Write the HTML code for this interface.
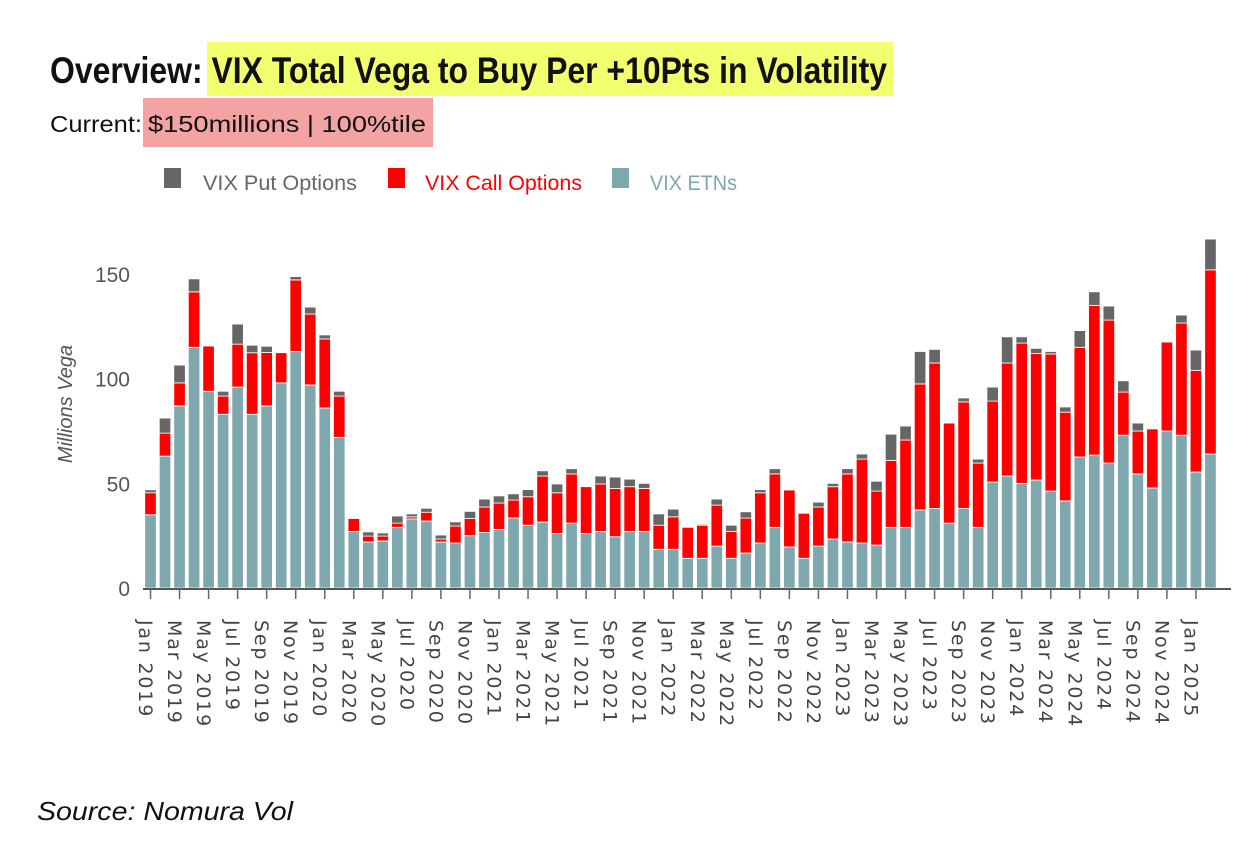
<!DOCTYPE html>
<html><head><meta charset="utf-8"><style>
html,body{margin:0;padding:0;background:#fff;}
svg{display:block;font-family:"Liberation Sans","DejaVu Sans",sans-serif;}
</style></head><body>
<svg id="chart" width="1253" height="844" viewBox="0 0 1253 844" xmlns="http://www.w3.org/2000/svg">
  <rect x="207" y="42" width="686" height="54" fill="#f2ff6e"/>
  <text x="50" y="83" font-size="37" font-weight="bold" fill="#111" textLength="837" lengthAdjust="spacingAndGlyphs">Overview: VIX Total Vega to Buy Per +10Pts in Volatility</text>
  <rect x="143" y="98" width="290" height="49" fill="#f4a3a3"/>
  <text x="50" y="132" font-size="23" fill="#111" textLength="92" lengthAdjust="spacingAndGlyphs">Current:</text>
  <text x="148" y="132" font-size="23" fill="#111" textLength="278" lengthAdjust="spacingAndGlyphs">$150millions | 100%tile</text>

  <g>
    <g>
      <rect x="164" y="168" width="17" height="20" fill="#666"/>
      <text x="203" y="190" font-size="21" fill="#666" textLength="154" lengthAdjust="spacingAndGlyphs">VIX Put Options</text>
    </g>
    <g>
      <rect x="388" y="168" width="17" height="20" fill="#ff0000"/>
      <text x="425" y="190" font-size="21" fill="#ff0000" textLength="157" lengthAdjust="spacingAndGlyphs">VIX Call Options</text>
    </g>
    <g>
      <rect x="612" y="168" width="17" height="20" fill="#7fa8ae"/>
      <text x="650" y="190" font-size="21" fill="#7fa8ae" textLength="87" lengthAdjust="spacingAndGlyphs">VIX ETNs</text>
    </g>
  </g>

  <text transform="translate(72,404) rotate(-90)" font-size="20" font-style="italic" fill="#555" text-anchor="middle">Millions Vega</text>

  <g id="yaxis"></g>
  <g id="bars"></g>
  <line x1="143" y1="589" x2="1231" y2="589" stroke="#555" stroke-width="2"/>
  <g id="xaxis"></g>

  <text x="37" y="820" font-size="26" font-style="italic" fill="#111" textLength="256" lengthAdjust="spacingAndGlyphs">Source: Nomura Vol</text>
</svg>
<script>
const etn = [35,63,87,115,94,83,96,83,87,98,113,97,86,72,27,22,22.5,29,33,32,22,21.5,25,26.5,28,33.5,30,31.5,26,31,26,27,24.5,27,27,18.5,18.5,14.2,14.2,20,14.2,16.7,21.5,29,19.6,14.2,20,23.4,22,21.5,20.5,29,29,37.3,38,31,38,29,50.6,53.5,50,51.6,46.3,41.6,62.6,63.5,59.7,73,54.5,47.8,75,73,55.4,64];
const call = [10.5,11,11,26.5,21.6,8.7,20.5,29.4,25.5,14.4,34.2,33.9,33,19.7,6.2,2.8,2.3,2,1,4.2,1.4,8.1,8.2,12.2,12.6,8.5,13.6,22,19.5,23.5,22.4,22.7,23.1,21.4,20.6,11.5,15.5,14.8,15.8,19.6,12.8,16.7,24,25.5,27.2,21.5,18.7,25,32.5,40.1,25.8,32,41.7,60.2,69.5,47.8,50.9,30.7,38.7,54,67,60.4,65.5,42.4,52.4,71.5,68.3,20.6,20.5,28.2,42.5,53.6,48.6,88];
const put = [1.4,7.2,8.5,6.2,0,2.3,9.6,3.6,3,0,1.6,3.3,1.9,2.3,0,2,1.5,3.4,1.4,1.9,1.9,2,3.4,3.8,3.4,3,3.4,2.5,4.2,2.5,0,3.8,5.4,3.6,2.4,5.4,3.7,0,0.5,2.9,3,3,1.5,2.5,0,0,2.3,1.6,2.5,2.4,4.7,12.5,6.7,15.5,6.5,0,1.9,1.9,6.7,12.5,3,2.5,1.2,2.5,8,6.5,6.7,5.4,3.8,0,0,3.8,9.7,14.7];
const monthNames = ["Jan","Feb","Mar","Apr","May","Jun","Jul","Aug","Sep","Oct","Nov","Dec"];
const yTicks = [0,50,100,150];
const startYear = 2019;

const NS = "http://www.w3.org/2000/svg";
const x0 = 150.5, step = 14.52, barW = 11.5;
function xScale(i){ return x0 + i*step; }
function yScale(v){ return 588 - v*2.093; }

const yaxis = document.getElementById('yaxis');
yTicks.forEach(t=>{
  const tx = document.createElementNS(NS,'text');
  
  
  tx.setAttribute('x', 130);
  tx.setAttribute('y', yScale(t)+8);
  tx.setAttribute('text-anchor','end');
  tx.setAttribute('font-size','21');
  tx.setAttribute('fill','#555');
  tx.textContent = t;
  yaxis.appendChild(tx);
});

const bars = document.getElementById('bars');
function seg(x, v0, v1, color, name){
  if (v1 - v0 <= 0) return;
  const r = document.createElementNS(NS,'rect');
  
  
  const yt = yScale(v1), yb = yScale(v0);
  r.setAttribute('x', x - barW/2);
  r.setAttribute('y', yt);
  r.setAttribute('width', barW);
  r.setAttribute('height', Math.max(0, yb-yt));
  r.setAttribute('fill', color);
  r.setAttribute('stroke', '#fff');
  r.setAttribute('stroke-width', '0.8');
  bars.appendChild(r);
}
etn.forEach((e,i)=>{
  const x = xScale(i);
  seg(x, 0, e, '#7fa8ae', 'bar-etn');
  seg(x, e, e+call[i], '#ff0000', 'bar-call');
  seg(x, e+call[i], e+call[i]+put[i], '#666666', 'bar-put');
});

const xaxis = document.getElementById('xaxis');
for (let i=0;i<etn.length;i+=2){
  const x = xScale(i);
  const tk = document.createElementNS(NS,'line');
  
  
  tk.setAttribute('x1', x); tk.setAttribute('x2', x);
  tk.setAttribute('y1', 589); tk.setAttribute('y2', 599);
  tk.setAttribute('stroke', '#666'); tk.setAttribute('stroke-width','1.5');
  xaxis.appendChild(tk);
  const lb = document.createElementNS(NS,'text');
  
  
  const lx = x - 6;
  lb.setAttribute('transform', 'translate('+lx+',620) rotate(90)');
  lb.setAttribute('font-size','19');
  lb.setAttribute('font-family','"DejaVu Sans", sans-serif');
  lb.setAttribute('letter-spacing','1.8');
  lb.setAttribute('fill','#444');
  lb.setAttribute('dominant-baseline','middle');
  lb.textContent = monthNames[i%12] + ' ' + (startYear + Math.floor(i/12));
  xaxis.appendChild(lb);
}
</script>
</body></html>
